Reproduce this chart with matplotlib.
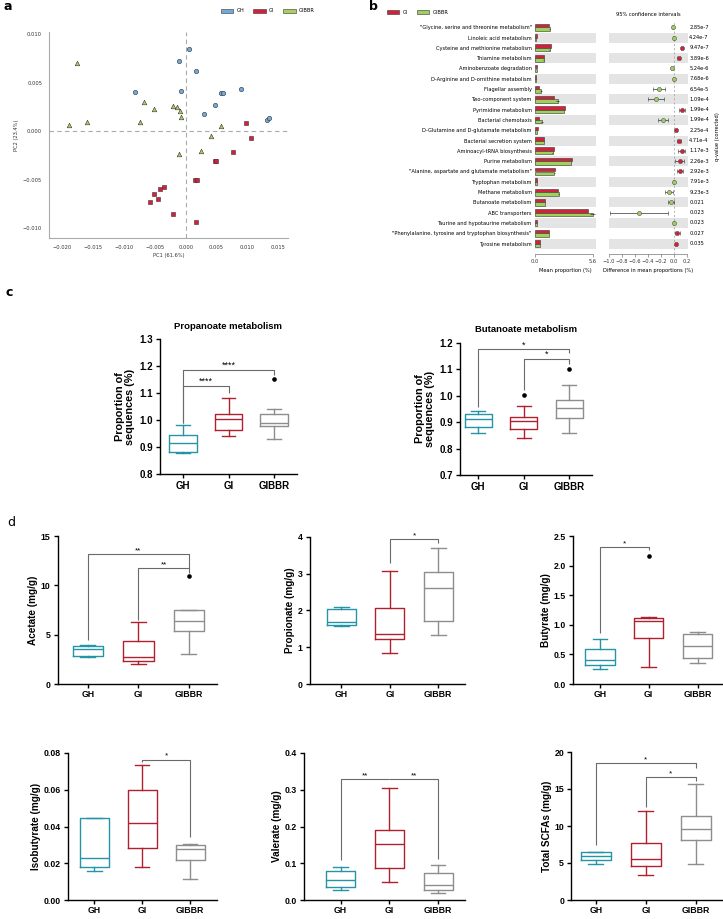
import matplotlib
matplotlib.use('Agg')
import matplotlib.pyplot as plt
from matplotlib.patches import Patch
from matplotlib.transforms import blended_transform_factory

plt.rcParams['font.family'] = ['Liberation Sans', 'DejaVu Sans']

W, H = 723, 919

# ---------------- panel a: PCA scores ----------------
gh_pc1 = [0.0006, -0.0011, 0.0017, -0.0082, -0.0007, 0.0057, 0.0061, 0.0089, 0.0048, 0.0030, 0.0132, 0.0135]
gh_pc2 = [0.0084, 0.0072, 0.0062, 0.0040, 0.0041, 0.0039, 0.0039, 0.0043, 0.0027, 0.0018, 0.0011, 0.0014]
gi_pc1 = [0.0098, 0.0106, 0.0077, 0.0047, 0.0049, 0.0015, 0.0019, -0.0036, -0.0041, -0.0051, -0.0045, -0.0058, -0.0020, 0.0016]
gi_pc2 = [0.0008, -0.0007, -0.0021, -0.0031, -0.0031, -0.0050, -0.0050, -0.0057, -0.0060, -0.0065, -0.0070, -0.0073, -0.0085, -0.0094]
gibbr_pc1 = [-0.0177, -0.0190, -0.0160, -0.0074, -0.0067, -0.0051, -0.0021, -0.0015, -0.0010, -0.0007, 0.0058, 0.0041, 0.0024, -0.0011]
gibbr_pc2 = [0.0070, 0.0006, 0.0009, 0.0009, 0.0030, 0.0023, 0.0026, 0.0025, 0.0021, 0.0015, 0.0005, -0.0005, -0.0020, -0.0024]

# ---------------- panel b: STAMP extended error bar ----------------
pathways = ['"Glycine, serine and threonine metabolism"', 'Linoleic acid metabolism',
            'Cysteine and methionine metabolism', 'Thiamine metabolism', 'Aminobenzoate degradation',
            'D-Arginine and D-ornithine metabolism', 'Flagellar assembly', 'Two-component system',
            'Pyrimidine metabolism', 'Bacterial chemotaxis', 'D-Glutamine and D-glutamate metabolism',
            'Bacterial secretion system', 'Aminoacyl-tRNA biosynthesis', 'Purine metabolism',
            '"Alanine, aspartate and glutamate metabolism"', 'Tryptophan metabolism', 'Methane metabolism',
            'Butanoate metabolism', 'ABC transporters', 'Taurine and hypotaurine metabolism',
            '"Phenylalanine, tyrosine and tryptophan biosynthesis"', 'Tyrosine metabolism']
gi_mean = [1.37, 0.12, 1.53, 0.82, 0.18, 0.03, 0.33, 1.86, 2.90, 0.39, 0.22, 0.85, 1.82, 3.55, 1.92,
           0.18, 2.18, 0.91, 5.11, 0.16, 1.37, 0.49]
gibbr_mean = [1.40, 0.10, 1.40, 0.80, 0.20, 0.03, 0.52, 2.18, 2.80, 0.62, 0.18, 0.82, 1.70, 3.48, 1.86,
              0.16, 2.28, 0.94, 5.60, 0.16, 1.34, 0.49]
gibbr_sd = [0.03, 0.0, 0.03, 0.02, 0.0, 0.0, 0.10, 0.12, 0.04, 0.10, 0.0, 0.02, 0.03, 0.04, 0.03,
            0.0, 0.04, 0.02, 0.25, 0.0, 0.02, 0.01]
diff = [-0.02, -0.005, 0.12, 0.07, -0.03, -0.005, -0.23, -0.28, 0.12, -0.17, 0.03, 0.08, 0.12, 0.085,
        0.085, -0.005, -0.075, -0.045, -0.54, -0.003, 0.05, 0.03]
ci_low = [-0.03, -0.012, 0.10, 0.05, -0.04, -0.012, -0.32, -0.40, 0.08, -0.25, 0.02, 0.05, 0.06, 0.02,
          0.04, -0.012, -0.14, -0.09, -0.99, -0.01, 0.01, 0.02]
ci_high = [-0.01, 0.002, 0.14, 0.09, -0.02, 0.002, -0.14, -0.16, 0.17, -0.10, 0.04, 0.11, 0.17, 0.15,
           0.13, 0.002, -0.01, -0.005, -0.10, 0.004, 0.09, 0.04]
qvals = ['2.85e-7', '4.24e-7', '9.47e-7', '3.89e-6', '5.24e-6', '7.68e-6', '6.54e-5', '1.09e-4', '1.99e-4',
         '1.99e-4', '2.25e-4', '4.71e-4', '1.17e-3', '2.26e-3', '2.92e-3', '7.91e-3', '9.23e-3', '0.021',
         '0.023', '0.023', '0.027', '0.035']

# ---------------- panel c: predicted pathways (whislo, q1, med, q3, whishi) ----------------
groups = ['GH', 'GI', 'GIBBR']
prop_gh = [0.879, 0.881, 0.916, 0.946, 0.980]
prop_gi = [0.941, 0.962, 1.005, 1.021, 1.081]
prop_gibbr = [0.930, 0.979, 0.990, 1.023, 1.041]
prop_out = [[], [], [1.150]]
butm_gh = [0.860, 0.880, 0.912, 0.929, 0.942]
butm_gi = [0.841, 0.874, 0.905, 0.920, 0.961]
butm_gibbr = [0.860, 0.917, 0.952, 0.983, 1.041]
butm_out = [[], [1.001], [1.100]]

# ---------------- panel d: SCFAs ----------------
acetate = [[2.70, 2.87, 3.55, 3.85, 3.92], [2.03, 2.30, 2.70, 4.36, 6.28], [3.04, 5.37, 6.35, 7.47, 7.50]]
acetate_out = [[], [], [10.95]]
propionate = [[1.575, 1.60, 1.69, 2.045, 2.10], [0.84, 1.21, 1.35, 2.07, 3.08], [1.32, 1.72, 2.61, 3.05, 3.70]]
butyrate = [[0.248, 0.327, 0.405, 0.591, 0.766], [0.287, 0.777, 1.064, 1.12, 1.137], [0.36, 0.439, 0.642, 0.85, 0.884]]
butyrate_out = [[], [2.168], []]
isobutyrate = [[0.0159, 0.0181, 0.0228, 0.0444, 0.0446], [0.0181, 0.0285, 0.0419, 0.0601, 0.0733],
               [0.0117, 0.0218, 0.0276, 0.0298, 0.0307]]
valerate = [[0.028, 0.036, 0.055, 0.0777, 0.091], [0.0497, 0.0876, 0.1526, 0.1905, 0.304],
            [0.019, 0.027, 0.0406, 0.074, 0.0957]]
total = [[4.81, 5.39, 5.93, 6.43, 6.43], [3.37, 4.63, 5.48, 7.69, 12.0], [4.81, 8.13, 9.62, 11.37, 15.69]]

# significance: (group i, group j, bar height, leg i bottom, leg j bottom, label)
prop_sig = [(0, 2, 1.185, 0.99, 1.165, '****'), (0, 1, 1.127, 0.99, 1.10, '****')]
butm_sig = [(0, 2, 1.175, 0.958, 1.16, '*'), (1, 2, 1.138, 1.02, 1.12, '*')]
acetate_sig = [(0, 2, 13.18, 4.46, 11.72, '**'), (1, 2, 11.72, 6.49, 11.3, '**')]
propionate_sig = [(1, 2, 3.94, 3.29, 3.82, '*')]
butyrate_sig = [(0, 1, 2.31, 0.867, 2.26, '*')]
isobutyrate_sig = [(1, 2, 0.0764, 0.0750, 0.0343, '*')]
valerate_sig = [(0, 1, 0.3287, 0.108, None, '**'), (1, 2, 0.3287, None, 0.112, '**')]
total_sig = [(0, 2, 18.47, 7.4, 17.9, '*'), (1, 2, 16.63, 12.6, 16.1, '*')]

col_a = {'GH': '#72a9d8', 'GI': '#d61f3a', 'GIBBR': '#a9cf5e'}
col_box = ['#2594a8', '#b0202f', '#8e8e8e']


def rect(x0, y0, x1, y1):
    return [x0 / W, 1 - y1 / H, (x1 - x0) / W, (y1 - y0) / H]


def label(x, y, s, **kw):
    fig.text(x / W, 1 - y / H, s, **kw)


fig = plt.figure(figsize=(W / 100, H / 100), dpi=100)
small = dict(fontsize=3.7, family='DejaVu Sans')

# ====== a ======
ax = fig.add_axes(rect(49, 32, 288, 238))
ax.axhline(0, color='#aaaaaa', ls='--', lw=0.8, dashes=(4, 3), zorder=1)
ax.axvline(0, color='#aaaaaa', ls='--', lw=0.8, dashes=(4, 3), zorder=1)
ax.scatter(gh_pc1, gh_pc2, marker='o', s=10, c=col_a['GH'], edgecolors='#333333', linewidths=0.4, zorder=3)
ax.scatter(gi_pc1, gi_pc2, marker='s', s=10, c=col_a['GI'], edgecolors='#333333', linewidths=0.4, zorder=3)
ax.scatter(gibbr_pc1, gibbr_pc2, marker='^', s=11, c=col_a['GIBBR'], edgecolors='#333333', linewidths=0.4, zorder=3)
ax.set_xlim(-0.0222, 0.0166)
ax.set_ylim(-0.011, 0.0102)
ax.set_xticks([-0.02, -0.015, -0.01, -0.005, 0, 0.005, 0.01, 0.015])
ax.set_yticks([-0.01, -0.005, 0, 0.005, 0.01])
ax.xaxis.set_major_formatter(matplotlib.ticker.FuncFormatter(lambda v, p: f'{v:.3f}'.replace('-', '\u2212')))
ax.yaxis.set_major_formatter(matplotlib.ticker.FuncFormatter(lambda v, p: f'{v:.3f}'.replace('-', '\u2212')))
for s in ['top', 'right']:
    ax.spines[s].set_visible(False)
for s in ['left', 'bottom']:
    ax.spines[s].set_color('#aaaaaa')
    ax.spines[s].set_linewidth(0.8)
ax.tick_params(length=0, pad=5, labelsize=3.7, labelcolor='#333333')
for t in ax.get_xticklabels() + ax.get_yticklabels():
    t.set_family('DejaVu Sans')
ax.set_xlabel('PC1 (61.6%)', labelpad=2, color='#333333', **small)
ax.set_ylabel('PC2 (23.4%)', labelpad=3, color='#333333', **small)
fig.legend(handles=[Patch(fc=col_a[g], ec='#333333', lw=0.4, label=g) for g in groups],
           loc='center left', bbox_to_anchor=(221 / W, 1 - 11 / H), ncol=3, frameon=False,
           prop={'family': 'DejaVu Sans', 'size': 3.7}, handlelength=2.4, handleheight=0.9,
           columnspacing=1.8, borderpad=0, borderaxespad=0, handletextpad=0.6)
label(3, 7, 'a', fontsize=9, fontweight='bold', family='DejaVu Sans', va='center')

# ====== b ======
idx = list(range(len(pathways)))
axb = fig.add_axes(rect(535.3, 21.1, 595.8, 253.9))
axd = fig.add_axes(rect(608.5, 21.1, 687.7, 253.9))
for a in (axb, axd):
    for i in idx:
        if i % 2 == 1:
            a.axhspan(i - 0.48, i + 0.48, color='#e4e4e4', lw=0, zorder=0)
    a.set_ylim(22.0, -0.6)
    for s in ['top', 'right', 'left']:
        a.spines[s].set_visible(False)
    a.spines['bottom'].set_color('#777777')
    a.spines['bottom'].set_linewidth(0.5)
    a.tick_params(axis='x', length=2, width=0.5, color='#777777', pad=1.5, labelsize=3.7, labelcolor='#333333')
axb.barh([i - 0.17 for i in idx], gi_mean, height=0.33, color='#d3213b', edgecolor='#333333', lw=0.4, zorder=2)
axb.barh([i + 0.17 for i in idx], gibbr_mean, height=0.33, xerr=gibbr_sd, color='#9fd05c', edgecolor='#333333',
         lw=0.4, zorder=2, error_kw=dict(ecolor='#333333', elinewidth=0.5, capsize=0))
axb.set_xlim(0, 5.9)
axb.spines['bottom'].set_bounds(0, 5.6)
axb.set_xticks([0, 5.6])
axb.set_xticklabels(['0.0', '5.6'])
axb.set_yticks(idx)
axb.set_yticklabels(pathways, **small)
axb.tick_params(axis='y', length=0, pad=2.5)
axb.set_xlabel('Mean proportion (%)', labelpad=3, **small)
for t in axb.get_xticklabels():
    t.set_family('DejaVu Sans')

axd.axvline(0, color='#999999', ls='--', lw=0.5, dashes=(3, 3), zorder=1)
for i in idx:
    c = '#d3213b' if diff[i] > 0 else '#9fd05c'
    axd.errorbar(diff[i], i, xerr=[[diff[i] - ci_low[i]], [ci_high[i] - diff[i]]], fmt='o', ms=3,
                 mfc=c, mec='#555555', mew=0.4, ecolor='#333333', elinewidth=0.5, capsize=1.2, capthick=0.5, zorder=3)
axd.set_xlim(-1.01, 0.21)
axd.spines['bottom'].set_bounds(-1.0, 0.2)
axd.set_xticks([-1.0, -0.8, -0.6, -0.4, -0.2, 0.0, 0.2])
axd.set_xticklabels(['\u22121.0', '\u22120.8', '\u22120.6', '\u22120.4', '\u22120.2', '0.0', '0.2'])
for t in axd.get_xticklabels():
    t.set_family('DejaVu Sans')
axd.set_yticks([])
axd.set_xlabel('Difference in mean proportions (%)', labelpad=3, **small)
axd.set_title('95% confidence intervals', pad=4, **small)
tr = blended_transform_factory(axd.transAxes, axd.transData)
for i in idx:
    axd.text(1.02, i, qvals[i], transform=tr, va='center', ha='left', **small)
label(717, 137, 'q-value (corrected)', rotation=90, ha='center', va='center', **small)
fig.legend(handles=[Patch(fc='#d3213b', ec='#333333', lw=0.4, label='GI'),
                    Patch(fc='#9fd05c', ec='#333333', lw=0.4, label='GIBBR')],
           loc='center left', bbox_to_anchor=(387 / W, 1 - 12 / H), ncol=2, frameon=False,
           prop={'family': 'DejaVu Sans', 'size': 3.7}, handlelength=2.4, handleheight=0.9,
           columnspacing=1.8, borderpad=0, borderaxespad=0, handletextpad=0.6)
label(369, 6, 'b', fontsize=9, fontweight='bold', family='DejaVu Sans', va='center')


# ====== box plot helpers ======
def draw_box(ax, data, outliers, sig, xlim, ylim, yticks, yfmt, tickfont, tsize, lw=1.0):
    stats = [dict(whislo=d[0], q1=d[1], med=d[2], q3=d[3], whishi=d[4], fliers=o) for d, o in zip(data, outliers)]
    bp = ax.bxp(stats, positions=[0, 1, 2], widths=0.6, capwidths=0.3, showfliers=True,
                flierprops=dict(marker='o', mfc='k', mec='k', ms=2.3))
    for k in range(3):
        for part in (bp['boxes'][k], bp['medians'][k], bp['whiskers'][2 * k], bp['whiskers'][2 * k + 1],
                     bp['caps'][2 * k], bp['caps'][2 * k + 1]):
            part.set_color(col_box[k])
            part.set_linewidth(lw)
    for (i, j, y, li, lj, s) in sig:
        xs, ys = [], []
        if li is not None:
            xs.append(i); ys.append(li)
        xs += [i, j]; ys += [y, y]
        if lj is not None:
            xs.append(j); ys.append(lj)
        ax.plot(xs, ys, color='#6a6a6a', lw=0.8, solid_capstyle='butt')
        ax.text((i + j) / 2, y, s, ha='center', va='bottom', fontsize=tsize - 0.5, family=tickfont)
    ax.set_xlim(*xlim)
    ax.set_ylim(ylim[0], ylim[1])
    ax.set_yticks(yticks)
    ax.set_yticklabels([yfmt.format(v) for v in yticks])
    ax.set_xticks([0, 1, 2])
    ax.set_xticklabels(groups)
    for s in ['top', 'right']:
        ax.spines[s].set_visible(False)
    for s in ['left', 'bottom']:
        ax.spines[s].set_linewidth(1.0)
    ax.tick_params(direction='out', length=3, width=1.0, pad=2, labelsize=tsize)
    for t in ax.get_xticklabels() + ax.get_yticklabels():
        t.set_fontweight('bold')
        t.set_family(tickfont)


# ====== c ======
arial = ['Liberation Sans', 'DejaVu Sans']
narrow = ['Liberation Sans Narrow', 'Liberation Sans', 'DejaVu Sans']
axc1 = fig.add_axes(rect(160, 339, 297, 474))
draw_box(axc1, [prop_gh, prop_gi, prop_gibbr], prop_out, prop_sig, (-0.5, 2.5), (0.8, 1.3),
         [0.8, 0.9, 1.0, 1.1, 1.2, 1.3], '{:.1f}', arial, 7)
axc1.set_title('Propanoate metabolism', fontsize=6.8, fontweight='bold', pad=7)
axc1.set_ylabel('Proportion of\nsequences (%)', fontsize=7.8, fontweight='bold', labelpad=3, linespacing=1.0)

axc2 = fig.add_axes(rect(460, 342.7, 592, 475))
draw_box(axc2, [butm_gh, butm_gi, butm_gibbr], butm_out, butm_sig, (-0.4, 2.5), (0.7, 1.2),
         [0.7, 0.8, 0.9, 1.0, 1.1, 1.2], '{:.1f}', arial, 7)
axc2.set_title('Butanoate metabolism', fontsize=6.8, fontweight='bold', pad=8)
axc2.set_ylabel('Proportion of\nsequences (%)', fontsize=7.8, fontweight='bold', labelpad=3, linespacing=1.0)
label(5, 292, 'c', fontsize=9, fontweight='bold', family='DejaVu Sans', va='center')

# ====== d ======
panels = [
    (rect(57.6, 536, 216.6, 684), acetate, acetate_out, acetate_sig, [0, 5, 10, 15], '{:g}', 'Acetate (mg/g)', (-0.6, 2.55)),
    (rect(309.7, 536.7, 465, 684), propionate, [[], [], []], propionate_sig, [0, 1, 2, 3, 4], '{:g}', 'Propionate (mg/g)', (-0.65, 2.55)),
    (rect(573, 536, 722, 684), butyrate, butyrate_out, butyrate_sig, [0, 0.5, 1.0, 1.5, 2.0, 2.5], '{:.1f}', 'Butyrate (mg/g)', (-0.55, 2.5)),
    (rect(68, 753, 216.6, 900), isobutyrate, [[], [], []], isobutyrate_sig, [0, 0.02, 0.04, 0.06, 0.08], '{:.2f}', 'Isobutyrate (mg/g)', (-0.55, 2.55)),
    (rect(304, 753, 465, 900), valerate, [[], [], []], valerate_sig, [0, 0.1, 0.2, 0.3, 0.4], '{:.1f}', 'Valerate (mg/g)', (-0.75, 2.55)),
    (rect(571, 752, 723, 900), total, [[], [], []], total_sig, [0, 5, 10, 15, 20], '{:g}', 'Total SCFAs (mg/g)', (-0.5, 2.55)),
]
for r, data, outs, sig, yt, fmt, yl, xl in panels:
    a = fig.add_axes(r)
    draw_box(a, data, outs, sig, xl, (yt[0], yt[-1]), yt, fmt, narrow, 6.3)
    a.tick_params(axis='x', pad=1.5)
    a.set_ylabel(yl, fontsize=7.2, fontweight='bold', labelpad=2, family=arial)
label(7, 522, 'd', fontsize=9, family='DejaVu Sans', va='center')

fig.savefig('out.png', dpi=100)
